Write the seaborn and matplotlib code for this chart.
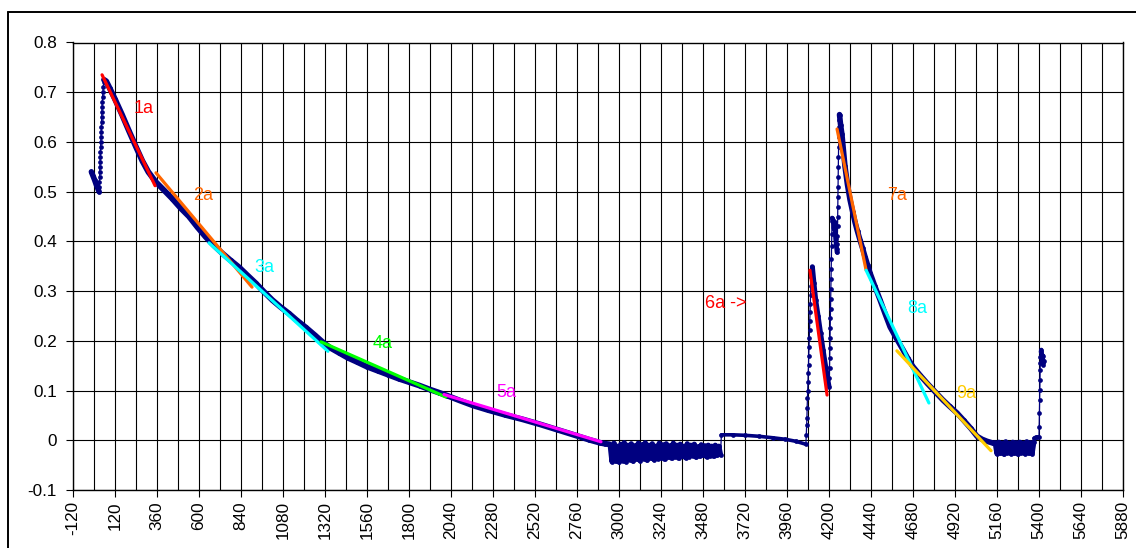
import numpy as np
import pandas as pd
import matplotlib
matplotlib.use("Agg")
import matplotlib.pyplot as plt
from matplotlib.lines import Line2D
from matplotlib.ticker import FixedLocator, FuncFormatter, MultipleLocator
import seaborn as sns

# ---------------- data ----------------
start_t = [-15, -6, 3, 12, 21, 29]
start_v = [0.540, 0.532, 0.524, 0.515, 0.507, 0.500]

rise1_t = [30, 31, 32, 33, 34, 35, 36, 37, 38, 39, 40, 41, 42, 43, 44, 45, 46, 47, 49, 51, 53, 56]
rise1_v = [0.51, 0.52, 0.53, 0.54, 0.55, 0.56, 0.57, 0.58, 0.59, 0.60, 0.61, 0.62, 0.63, 0.64,
           0.65, 0.66, 0.67, 0.68, 0.69, 0.70, 0.71, 0.72]

decay1_t = [57, 70, 90, 120, 160, 200, 240, 276, 310, 352, 400, 447, 495, 543, 590, 638, 685,
            733, 780, 829, 876, 924, 970, 1019, 1066, 1114, 1160, 1210, 1260, 1305, 1350, 1400,
            1450, 1500, 1560, 1620, 1680, 1740, 1800, 1860, 1920, 1970, 2017, 2090, 2166, 2250,
            2350, 2450, 2549, 2650, 2750, 2830, 2891, 2920, 2945]
decay1_v = [0.725, 0.722, 0.708, 0.686, 0.655, 0.622, 0.590, 0.562, 0.540, 0.520, 0.503, 0.486,
            0.467, 0.450, 0.429, 0.409, 0.392, 0.376, 0.362, 0.348, 0.332, 0.316, 0.299, 0.282,
            0.268, 0.255, 0.241, 0.227, 0.212, 0.198, 0.186, 0.176, 0.166, 0.158, 0.148, 0.140,
            0.132, 0.124, 0.117, 0.110, 0.102, 0.096, 0.090, 0.080, 0.070, 0.061, 0.051, 0.042,
            0.032, 0.021, 0.010, 0.001, -0.005, -0.007, -0.008]

noise1_t = [2950, 2960, 2970, 2980, 2990, 3000, 3010, 3020, 3030, 3040, 3050, 3060, 3070, 3080,
            3090, 3100, 3110, 3120, 3130, 3140, 3150, 3160, 3170, 3180, 3190, 3200, 3210, 3220,
            3230, 3240, 3250, 3260, 3270, 3280, 3290, 3300, 3310, 3320, 3330, 3340, 3350, 3360,
            3370, 3380, 3390, 3400, 3410, 3420, 3430, 3440, 3450, 3460, 3470, 3480, 3490, 3500,
            3510, 3520, 3530, 3540, 3550, 3560, 3570, 3580]
noise1_v = [-0.010, -0.043, -0.006, -0.042, -0.012, -0.044, -0.008, -0.041, -0.005, -0.043,
            -0.010, -0.039, -0.007, -0.042, -0.011, -0.038, -0.006, -0.041, -0.009, -0.037,
            -0.005, -0.040, -0.010, -0.036, -0.007, -0.039, -0.012, -0.037, -0.006, -0.035,
            -0.009, -0.038, -0.007, -0.034, -0.011, -0.036, -0.006, -0.033, -0.010, -0.036,
            -0.008, -0.032, -0.012, -0.035, -0.007, -0.033, -0.010, -0.031, -0.008, -0.034,
            -0.013, -0.032, -0.009, -0.030, -0.011, -0.033, -0.010, -0.031, -0.012, -0.032,
            -0.010, -0.030, -0.012, -0.029]

plateau_t = [3585, 3650, 3720, 3800, 3880, 3950, 4010, 4068]
plateau_v = [0.011, 0.011, 0.010, 0.008, 0.005, 0.002, -0.002, -0.008]

rise6_t = [4070, 4072, 4074, 4075, 4077, 4078, 4080, 4081, 4083, 4084, 4086, 4087, 4089, 4090,
           4092, 4093, 4095, 4096, 4098, 4100]
rise6_v = [0.011, 0.030, 0.045, 0.065, 0.085, 0.100, 0.118, 0.135, 0.152, 0.170, 0.188, 0.205,
           0.222, 0.240, 0.258, 0.275, 0.292, 0.310, 0.328, 0.345]

decay6_t = [4105, 4114, 4124, 4138, 4152, 4166, 4181, 4190, 4200]
decay6_v = [0.349, 0.316, 0.282, 0.249, 0.215, 0.182, 0.148, 0.128, 0.108]

rise7_t = [4202, 4203, 4204, 4205, 4206, 4207, 4208, 4209, 4210, 4211, 4212, 4213, 4214, 4215,
           4216, 4217]
rise7_v = [0.125, 0.145, 0.165, 0.185, 0.205, 0.225, 0.245, 0.265, 0.285, 0.305, 0.325, 0.345,
           0.365, 0.390, 0.415, 0.440]

blob7_t = [4218, 4222, 4226, 4229, 4232, 4235, 4238, 4241, 4244, 4246]
blob7_v = [0.447, 0.443, 0.435, 0.425, 0.438, 0.420, 0.405, 0.395, 0.385, 0.378]

rise8_t = [4247, 4248, 4249, 4249.5, 4250, 4251, 4252, 4252.5, 4253, 4254, 4255, 4256, 4256.5,
           4257, 4258]
rise8_v = [0.395, 0.410, 0.430, 0.450, 0.470, 0.490, 0.510, 0.530, 0.550, 0.570, 0.590, 0.610,
           0.630, 0.645, 0.655]

decay7_t = [4260, 4266, 4274, 4282, 4291, 4305, 4320, 4335, 4349, 4363, 4377, 4392, 4406, 4420,
            4434, 4462, 4491, 4520, 4549, 4585, 4623, 4650, 4680, 4720, 4760, 4805, 4851, 4890,
            4931, 4970, 5010, 5046, 5075, 5103, 5140]
decay7_v = [0.655, 0.635, 0.615, 0.585, 0.552, 0.515, 0.484, 0.460, 0.438, 0.420, 0.403, 0.386,
            0.369, 0.353, 0.337, 0.310, 0.283, 0.255, 0.228, 0.205, 0.182, 0.165, 0.148, 0.131,
            0.115, 0.098, 0.081, 0.068, 0.055, 0.040, 0.024, 0.008, 0.002, -0.002, -0.006]

noise2_t = [5150, 5160, 5170, 5180, 5190, 5200, 5210, 5220, 5230, 5240, 5250, 5260, 5270, 5280,
            5290, 5300, 5310, 5320, 5330, 5340, 5350, 5360, 5370]
noise2_v = [-0.005, -0.027, -0.004, -0.026, -0.006, -0.028, -0.003, -0.025, -0.006, -0.027,
            -0.004, -0.026, -0.005, -0.028, -0.004, -0.025, -0.006, -0.027, -0.003, -0.026,
            -0.005, -0.027, -0.004]

plateau2_t = [5372, 5380, 5390, 5400]
plateau2_v = [0.004, 0.006, 0.006, 0.006]

rise9_t = [5401, 5402, 5403, 5404, 5405, 5406, 5407, 5408]
rise9_v = [0.027, 0.054, 0.081, 0.101, 0.121, 0.141, 0.155, 0.168]

blob9_t = [5410, 5413, 5416, 5418, 5420, 5422, 5424, 5426]
blob9_v = [0.178, 0.182, 0.172, 0.165, 0.158, 0.170, 0.152, 0.160]

# fitted segments
fit_labels = ["1a", "2a", "3a", "4a", "5a", "6a", "7a", "8a", "9a"]
fit_x0 = [46, 354, 657, 1297, 2000, 4091, 4246, 4412, 4588]
fit_y0 = [0.735, 0.538, 0.397, 0.198, 0.092, 0.342, 0.626, 0.342, 0.180]
fit_x1 = [349, 903, 1337, 2011, 2897, 4189, 4412, 4771, 5126]
fit_y1 = [0.512, 0.308, 0.179, 0.087, -0.003, 0.091, 0.342, 0.075, -0.021]

# annotation labels
note_text = ["1a", "2a", "3a", "4a", "5a", "6a ->", "7a", "8a", "9a"]
note_x = [286, 623, 971, 1651, 2354, 3608, 4589, 4703, 4983]
note_y = [0.668, 0.493, 0.348, 0.194, 0.097, 0.276, 0.493, 0.266, 0.095]

x_tick_values = [-120, 120, 360, 600, 840, 1080, 1320, 1560, 1800, 2040, 2280, 2520, 2760, 3000,
                 3240, 3480, 3720, 3960, 4200, 4440, 4680, 4920, 5160, 5400, 5640, 5880]
y_tick_values = [-0.1, 0.0, 0.1, 0.2, 0.3, 0.4, 0.5, 0.6, 0.7, 0.8]

# ---------------- styling ----------------
NAVY = "#000080"
fit_colors = ["#FF0000", "#FF6600", "#00FFFF", "#00FF00", "#FF00FF",
              "#FF0000", "#FF6600", "#00FFFF", "#FFCC00"]

segments = [
    ("start", start_t, start_v, 4.0),
    ("rise1", rise1_t, rise1_v, 0),
    ("decay1", decay1_t, decay1_v, 4.2),
    ("noise1", noise1_t, noise1_v, 3.8),
    ("plateau", plateau_t, plateau_v, 2.6),
    ("rise6", rise6_t, rise6_v, 0),
    ("decay6", decay6_t, decay6_v, 3.6),
    ("rise7", rise7_t, rise7_v, 0),
    ("blob7", blob7_t, blob7_v, 3.4),
    ("rise8", rise8_t, rise8_v, 0),
    ("decay7", decay7_t, decay7_v, 4.0),
    ("noise2", noise2_t, noise2_v, 3.8),
    ("plateau2", plateau2_t, plateau2_v, 2.6),
    ("rise9", rise9_t, rise9_v, 0),
    ("blob9", blob9_t, blob9_v, 3.0),
]

frames = []
for name, t, v, w in segments:
    frames.append(pd.DataFrame({"time": t, "signal": v, "segment": name}))
df = pd.concat(frames, ignore_index=True)

sns.set_theme(style="white")
plt.rcParams["font.family"] = ["Liberation Sans", "DejaVu Sans"]

W, H = 1136, 548
fig = plt.figure(figsize=(W / 100, H / 100), dpi=100)
fig.patch.set_facecolor("white")
ax = fig.add_axes([73 / W, 1 - 490 / H, (1123 - 73) / W, (490 - 42.5) / H])

# full record: thin line with dot markers
sns.lineplot(data=df, x="time", y="signal", sort=False, estimator=None, errorbar=None,
             color=NAVY, lw=0.9, marker="o", markersize=3.4, markeredgewidth=0,
             ax=ax, zorder=3)
# densely sampled stretches appear as a thick band
for name, t, v, w in segments:
    if w > 0:
        sub = df[df["segment"] == name]
        sns.lineplot(data=sub, x="time", y="signal", sort=False, estimator=None,
                     errorbar=None, color=NAVY, lw=w, solid_capstyle="round",
                     solid_joinstyle="round", ax=ax, zorder=3)

# fitted lines
for i in range(len(fit_labels)):
    sns.lineplot(x=[fit_x0[i], fit_x1[i]], y=[fit_y0[i], fit_y1[i]], sort=False,
                 estimator=None, errorbar=None, color=fit_colors[i], lw=2.3, ax=ax, zorder=5)

for i in range(len(note_text)):
    ax.text(note_x[i], note_y[i], note_text[i], color=fit_colors[i], fontsize=13,
            ha="center", va="center", zorder=6)

ax.set_xlim(-120, 5880)
ax.set_ylim(-0.1, 0.8)
ax.set_xlabel("")
ax.set_ylabel("")

ax.xaxis.set_major_locator(FixedLocator(x_tick_values))
ax.xaxis.set_minor_locator(MultipleLocator(120))
ax.xaxis.set_major_formatter(FuncFormatter(lambda v, p: f"{int(round(v))}"))
ax.yaxis.set_major_locator(FixedLocator(y_tick_values))
ax.yaxis.set_major_formatter(FuncFormatter(lambda v, p: f"{round(v, 1):g}"))

ax.set_axisbelow(True)
ax.grid(True, which="major", axis="both", color="black", lw=0.8)
ax.grid(True, which="minor", axis="x", color="black", lw=0.8)
ax.tick_params(axis="x", which="major", bottom=True, direction="out", length=5, width=0.8,
               color="black", labelsize=12.3, labelrotation=90, pad=3, labelcolor="black")
ax.tick_params(axis="x", which="minor", bottom=True, length=0)
ax.tick_params(axis="y", which="major", left=True, direction="out", length=5, width=0.8,
               color="black", labelsize=12.3, pad=6.5, labelcolor="black")
for s in ax.spines.values():
    s.set_color("black")
    s.set_linewidth(1.0)
    s.set_visible(True)

# outer chart border
bx, by = 8 / W, 1 - 12 / H
fig.add_artist(Line2D([bx, bx], [0, by], transform=fig.transFigure, color="black", lw=1.4))
fig.add_artist(Line2D([bx, 1], [by, by], transform=fig.transFigure, color="black", lw=1.4))

fig.savefig("out.png", dpi=100, facecolor="white")
